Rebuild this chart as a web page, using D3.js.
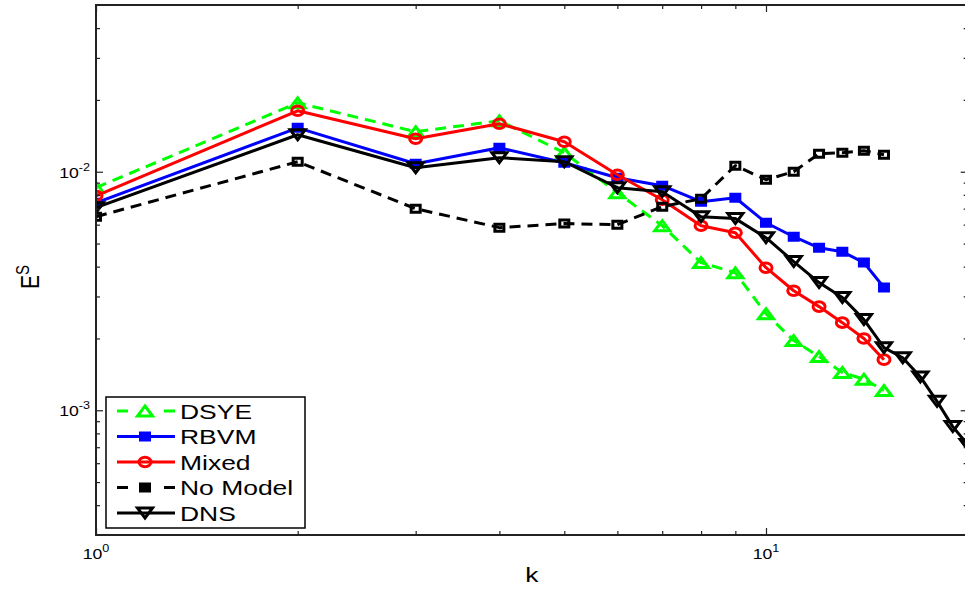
<!DOCTYPE html>
<html><head><meta charset="utf-8">
<script src="https://cdn.jsdelivr.net/npm/d3@7"></script>
<style>
body{margin:0;background:#fff}
svg{display:block}
text{font-family:"Liberation Sans",Arial,Helvetica,sans-serif;fill:#000}
</style>
</head><body>
<svg id="c" width="965" height="590"></svg>
<script>
// ---- data ----
const kModels = [1,2,3,4,5,6,7,8,9,10,11,12,13,14,15];
const kDNS = [1,2,3,4,5,6,7,8,9,10,11,12,13,14,15,16,17,18,19,20];
const dsye = [0.00857,0.01945,0.01471,0.01636,0.01201,0.00817,0.00594,0.00416,0.00377,0.00254,0.00196,0.00168,0.00144,0.00135,0.00121];
const rbvm = [0.00741,0.01528,0.01080,0.01260,0.01091,0.00944,0.00874,0.00749,0.00778,0.00611,0.00534,0.00480,0.00462,0.00416,0.00327];
const mixed = [0.00793,0.01801,0.01375,0.01589,0.01336,0.00971,0.00763,0.00594,0.00555,0.00396,0.00317,0.00272,0.00233,0.00200,0.00163];
const noModel = [0.00648,0.01101,0.00700,0.00583,0.00606,0.00600,0.00714,0.00771,0.01060,0.00926,0.01000,0.01190,0.01201,0.01225,0.01178];
const dns = [0.00707,0.01429,0.01039,0.01145,0.01101,0.00857,0.00825,0.00648,0.00636,0.00529,0.00420,0.00343,0.00297,0.00240,0.00183,0.00166,0.00138,0.00109,0.000854,0.000718];
const seriesNames = ["DSYE","RBVM","Mixed","No Model","DNS"];
const xMajorTicks = [1,10];
const xMinorTicks = [2,3,4,5,6,7,8,9,20];
const yMajorTicks = [1e-3,1e-2];
const yMinorTicks = [4e-4,5e-4,6e-4,7e-4,8e-4,9e-4,2e-3,3e-3,4e-3,5e-3,6e-3,7e-3,8e-3,9e-3,2e-2,3e-2,4e-2];
const xLabel = "k";
const yLabel = "E", yLabelSup = "S";

// ---- layout ----
const SX = 1.26; // horizontal text stretch
const L = 96, T = 5, B = 535;
const x = d3.scaleLog().domain([1,20]).range([L, L + 670*Math.log10(20)]);
const y = d3.scaleLog().domain([3e-4,5e-2]).range([B, T]);
const R = x.range()[1];

const svg = d3.select("#c");
svg.append("defs").append("clipPath").attr("id","clip")
  .append("rect").attr("x",L).attr("y",T).attr("width",R-L).attr("height",B-T);

const markers = {
  tri: "M0,-5 L7.5,5 L-7.5,5 Z",
  dtri: "M0,5 L7.5,-5 L-7.5,-5 Z",
  sq: "M-4.5,-3.5 h9 v7 h-9 Z",
  circ: null
};

const series = [
  {name:seriesNames[0], k:kModels, v:dsye, color:"#00ff00", dash:"11,7", marker:"tri", fill:"none"},
  {name:seriesNames[1], k:kModels, v:rbvm, color:"#0000ff", dash:null, marker:"sq", fill:"#0000ff"},
  {name:seriesNames[2], k:kModels, v:mixed, color:"#ff0000", dash:null, marker:"circ", fill:"none"},
  {name:seriesNames[3], k:kModels, v:noModel, color:"#000000", dash:"11,7", marker:"sq", fill:"none"},
  {name:seriesNames[4], k:kDNS, v:dns, color:"#000000", dash:null, marker:"dtri", fill:"none"}
];

function drawMarker(g, type, color, fill){
  if(type==="circ"){
    g.append("ellipse").attr("rx",6).attr("ry",4.8)
      .attr("fill",fill).attr("stroke",color).attr("stroke-width",3);
  } else {
    g.append("path").attr("d",markers[type])
      .attr("fill",fill).attr("stroke",color).attr("stroke-width",3)
      .attr("stroke-linejoin","miter");
  }
}

const plot = svg.append("g").attr("clip-path","url(#clip)");
const line = d3.line().x(d=>x(d[0])).y(d=>y(d[1]));
series.forEach(s=>{
  const pts = s.k.map((k,i)=>[k,s.v[i]]);
  plot.append("path").datum(pts).attr("d",line)
    .attr("fill","none").attr("stroke",s.color).attr("stroke-width",3)
    .attr("stroke-dasharray",s.dash).attr("stroke-linejoin","round");
  pts.forEach(p=>{
    const g = plot.append("g").attr("transform",`translate(${x(p[0])},${y(p[1])})`);
    drawMarker(g, s.marker, s.color, s.fill);
  });
});

// ---- axes (inward ticks) ----
function styleAxis(g){
  g.selectAll(".domain").remove();
  g.selectAll(".tick line").attr("stroke","#222").attr("stroke-width",1.2);
  g.selectAll(".tick text").remove();
}
const axes = svg.append("g");
axes.append("g").attr("transform",`translate(0,${B})`).call(d3.axisBottom(x).tickValues(xMajorTicks).tickSize(-7)).call(styleAxis);
axes.append("g").attr("transform",`translate(0,${B})`).call(d3.axisBottom(x).tickValues(xMinorTicks).tickSize(-4)).call(styleAxis);
axes.append("g").attr("transform",`translate(0,${T})`).call(d3.axisTop(x).tickValues(xMajorTicks).tickSize(-7)).call(styleAxis);
axes.append("g").attr("transform",`translate(0,${T})`).call(d3.axisTop(x).tickValues(xMinorTicks).tickSize(-4)).call(styleAxis);
axes.append("g").attr("transform",`translate(${L},0)`).call(d3.axisLeft(y).tickValues(yMajorTicks).tickSize(-7)).call(styleAxis);
axes.append("g").attr("transform",`translate(${L},0)`).call(d3.axisLeft(y).tickValues(yMinorTicks).tickSize(-4)).call(styleAxis);
axes.append("g").attr("transform",`translate(${R},0)`).call(d3.axisRight(y).tickValues(yMajorTicks).tickSize(-7)).call(styleAxis);
axes.append("g").attr("transform",`translate(${R},0)`).call(d3.axisRight(y).tickValues(yMinorTicks).tickSize(-4)).call(styleAxis);
axes.append("rect").attr("x",L).attr("y",T).attr("width",R-L).attr("height",B-T)
  .attr("fill","none").attr("stroke","#222").attr("stroke-width",2);

// tick labels
xMajorTicks.forEach(v=>{
  const e = Math.round(Math.log10(v));
  const t = svg.append("g").attr("transform",`translate(${x(v)},559) scale(${SX},1)`)
    .append("text").attr("text-anchor","middle").attr("font-size",14);
  t.append("tspan").text("10");
  t.append("tspan").attr("dy",-7).attr("font-size",10).text(String(e));
});
yMajorTicks.forEach(v=>{
  const e = Math.round(Math.log10(v));
  const t = svg.append("g").attr("transform",`translate(90,${y(v)+6}) scale(${SX},1)`)
    .append("text").attr("text-anchor","end").attr("font-size",14);
  t.append("tspan").text("10");
  t.append("tspan").attr("dy",-7).attr("font-size",10).text("-" + String(-e));
});

// axis labels
svg.append("g").attr("transform",`translate(${(L+R)/2},582) scale(${SX},1)`)
  .append("text").attr("text-anchor","middle").attr("font-size",21).text(xLabel);
const yl = svg.append("g").attr("transform",`translate(39,277) rotate(-90) scale(1,${SX})`)
  .append("text").attr("text-anchor","middle").attr("font-size",21);
yl.append("tspan").text(yLabel);
yl.append("tspan").attr("dy",-8).attr("font-size",15).text(yLabelSup);

// ---- legend ----
const lg = svg.append("g");
lg.append("rect").attr("x",106).attr("y",397).attr("width",199).attr("height",131)
  .attr("fill","#fff").attr("stroke","#000").attr("stroke-width",1.5);
series.forEach((s,i)=>{
  const cy = 411 + i*25.5;
  lg.append("line").attr("x1",117).attr("x2",175).attr("y1",cy).attr("y2",cy)
    .attr("stroke",s.color).attr("stroke-width",3)
    .attr("stroke-dasharray", s.dash ? "11,36" : null);
  const g = lg.append("g").attr("transform",`translate(145,${cy})`);
  drawMarker(g, s.marker, s.color, s.marker==="sq" ? s.color : s.fill);
  lg.append("g").attr("transform",`translate(180,${cy+7.5}) scale(${SX},1)`)
    .append("text").attr("font-size",21).text(s.name);
});
</script>
</body></html>
